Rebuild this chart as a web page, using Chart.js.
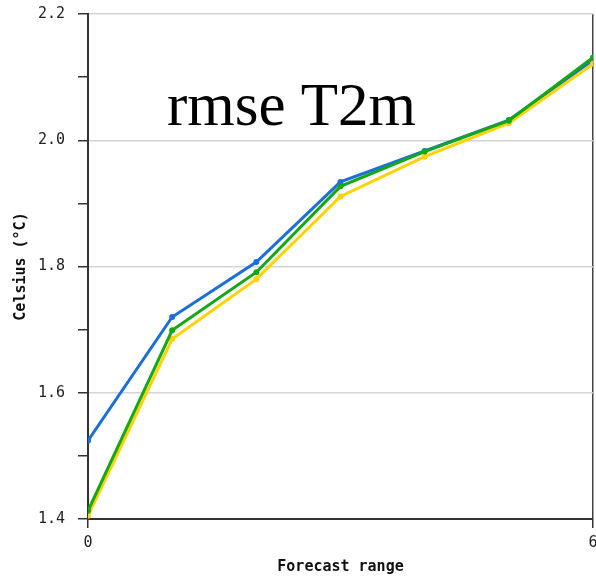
<!DOCTYPE html>
<html>
<head>
<meta charset="utf-8">
<script src="https://cdn.jsdelivr.net/npm/chart.js@4/dist/chart.umd.min.js"></script>
<style>
  html, body { margin: 0; padding: 0; background: #fff; overflow: hidden; }
  #wrap { width: 596px; height: 577px; overflow: hidden; }
  canvas { display: block; }
</style>
</head>
<body>
<div id="wrap"><canvas id="c" width="606" height="577"></canvas></div>
<script>
// Forecast range steps
const steps = [0, 1, 2, 3, 4, 5, 6];
// RMSE of 2 m temperature (°C) per run
const rmseBlue   = [1.524, 1.720, 1.807, 1.934, 1.983, 2.032, 2.127];
const rmseGreen  = [1.413, 1.699, 1.791, 1.927, 1.982, 2.031, 2.131];
const rmseYellow = [1.405, 1.685, 1.780, 1.911, 1.974, 2.027, 2.121];
// Axis tick values
const xTicks = [0, 6];
const yMin = 1.4, yMax = 2.2;

const chartTitle = 'rmse T2m';

function pts(vals) { return steps.map((s, i) => ({ x: s, y: vals[i] })); }
const isMajor = v => Math.round(v * 10) % 2 === 0;

// Large serif caption drawn inside the plot area
const titleText = {
  id: 'titleText',
  afterDraw(chart) {
    const { ctx, chartArea } = chart;
    ctx.save();
    ctx.font = '61px "Liberation Serif", "Times New Roman", serif';
    ctx.fillStyle = '#000';
    ctx.textAlign = 'left';
    ctx.textBaseline = 'alphabetic';
    ctx.fillText(chartTitle, chartArea.left + 79, chartArea.top + 111);
    ctx.restore();
  }
};

const lineStyle = (color, order) => ({
  borderColor: color,
  backgroundColor: color,
  borderWidth: 3,
  pointRadius: 3,
  pointHoverRadius: 3,
  pointBorderWidth: 0,
  tension: 0,
  fill: false,
  order: order
});

new Chart(document.getElementById('c'), {
  type: 'line',
  data: {
    datasets: [
      Object.assign({ label: 'run 1', data: pts(rmseBlue) }, lineStyle('#1a6fd8', 3)),
      Object.assign({ label: 'run 3', data: pts(rmseYellow) }, lineStyle('#ffd200', 2)),
      Object.assign({ label: 'run 2', data: pts(rmseGreen) }, lineStyle('#14a814', 1))
    ]
  },
  options: {
    responsive: false,
    animation: false,
    layout: { padding: { top: 14, right: 13, left: 0, bottom: 0 } },
    plugins: { legend: { display: false }, tooltip: { enabled: false }, title: { display: false } },
    scales: {
      x: {
        type: 'linear',
        min: 0, max: 6,
        afterBuildTicks: s => { s.ticks = xTicks.map(v => ({ value: v })); },
        afterFit: s => { s.height = 58; s.paddingLeft = 0; s.paddingRight = 0; },
        border: { display: true, color: '#333', width: 2 },
        grid: { color: '#444', lineWidth: 1.5, tickLength: 9, tickColor: '#333' },
        ticks: { font: { family: '"DejaVu Sans Mono", monospace', size: 15 }, color: '#222', padding: 6, maxRotation: 0 },
        title: { display: true, text: 'Forecast range', color: '#111',
                 font: { family: '"DejaVu Sans Mono", monospace', size: 15, weight: 'bold' },
                 padding: { top: 0, bottom: 1 } }
      },
      y: {
        min: yMin, max: yMax,
        afterFit: s => { s.width = 88; s.paddingTop = 0; s.paddingBottom = 0; },
        border: { display: true, color: '#333', width: 2 },
        grid: {
          color: c => isMajor(c.tick.value) ? '#d4d4d4' : 'rgba(0,0,0,0)',
          lineWidth: 1.5,
          tickLength: 10,
          tickColor: '#333'
        },
        ticks: {
          stepSize: 0.1,
          font: { family: '"DejaVu Sans Mono", monospace', size: 15 },
          color: '#222',
          padding: 13,
          callback: v => isMajor(v) ? v.toFixed(1) : ''
        },
        title: { display: true, text: 'Celsius (°C)', color: '#111',
                 font: { family: '"DejaVu Sans Mono", monospace', size: 15, weight: 'bold' },
                 padding: { top: 12, bottom: 0 } }
      }
    }
  },
  plugins: [titleText]
});
</script>
</body>
</html>
